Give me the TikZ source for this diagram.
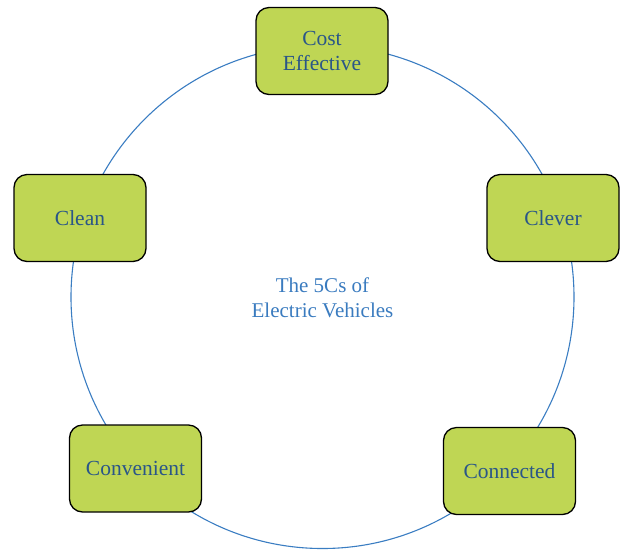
\documentclass[tikz,border=0pt]{standalone}
\usepackage{fontspec}
\setmainfont{Liberation Serif}
\definecolor{boxfill}{HTML}{BFD654}
\definecolor{boxtext}{HTML}{2A5688}
\definecolor{ctext}{HTML}{3A7BBF}
\definecolor{ring}{HTML}{3A7DC2}
\tikzset{
  cbox/.style={draw=black, line width=1.3pt, fill=boxfill, rounded corners=13pt,
    minimum width=132pt, minimum height=87pt, inner sep=0pt, align=center,
    text=boxtext, font=\fontsize{21.5}{24.5}\selectfont},
  ctr/.style={align=center, text=ctext, font=\fontsize{21}{25}\selectfont}
}
\begin{document}
\begin{tikzpicture}[x=1pt,y=-1pt]
\useasboundingbox (0,0) rectangle (621,550);
\coordinate (c) at (322.5,297);
\draw[ring, line width=1.1pt] (c) circle[radius=251.5];
\node[cbox] (cost) at (322,51) {Cost\\Effective};
\node[cbox] (clean) at (80,218) {Clean};
\node[cbox] (clever) at (553,218) {Clever};
\node[cbox] (conv) at (135.5,468.5) {Convenient};
\node[cbox] (conn) at (509.5,471) {Connected};
\node[ctr] (title) at (322.5,298) {The 5Cs of\\Electric Vehicles};
\end{tikzpicture}
\end{document}
